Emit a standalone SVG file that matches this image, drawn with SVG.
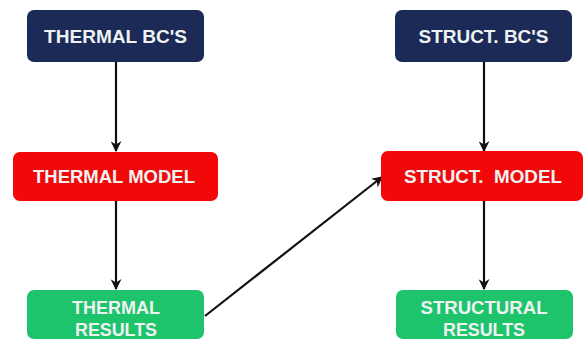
<svg xmlns="http://www.w3.org/2000/svg" width="584" height="340" viewBox="0 0 584 340">
<defs>
<marker id="ah" viewBox="0 0 10 10" refX="9" refY="5" markerWidth="5" markerHeight="5" orient="auto" markerUnits="strokeWidth">
<path d="M0,0 L10,5 L0,10 L3,5 Z" fill="#111"/>
</marker>
<style>
.bc{fill:#1b2a57}
.md{fill:#f20808}
.rs{fill:#1ec46b}
.t{font-family:"Liberation Sans",Arial,sans-serif;font-weight:bold;font-size:18px;fill:#eef2f2;text-anchor:middle}
.c{stroke:#111;stroke-width:2.2;fill:none;marker-end:url(#ah)}
</style>
</defs>
<rect width="584" height="340" fill="#ffffff"/>
<g id="connectors">
<line class="c" x1="116" y1="62" x2="116" y2="151"/>
<line class="c" x1="116" y1="201" x2="116" y2="289"/>
<line class="c" x1="484" y1="62" x2="484" y2="151"/>
<line class="c" x1="484" y1="201" x2="484" y2="289"/>
<line class="c" x1="205" y1="316" x2="382" y2="177"/>
</g>
<g id="thermal-bcs">
<rect class="bc" x="27" y="10" width="177" height="52" rx="7"/>
<text class="t" x="115.5" y="43" textLength="143" lengthAdjust="spacingAndGlyphs">THERMAL BC'S</text>
</g>
<g id="struct-bcs">
<rect class="bc" x="395" y="10" width="177" height="52" rx="7"/>
<text class="t" x="483.5" y="43" textLength="130" lengthAdjust="spacingAndGlyphs">STRUCT. BC'S</text>
</g>
<g id="thermal-model">
<rect class="md" x="13" y="152" width="205" height="49" rx="7"/>
<text class="t" x="114" y="183" textLength="162" lengthAdjust="spacingAndGlyphs">THERMAL MODEL</text>
</g>
<g id="struct-model">
<rect class="md" x="381" y="151" width="202" height="50" rx="7"/>
<text class="t" x="483" y="183" textLength="158" lengthAdjust="spacingAndGlyphs" xml:space="preserve">STRUCT.  MODEL</text>
</g>
<g id="thermal-results">
<rect class="rs" x="27" y="290" width="177" height="49" rx="7"/>
<text class="t" x="116" y="314" textLength="88" lengthAdjust="spacingAndGlyphs">THERMAL</text>
<text class="t" x="116" y="336" textLength="82" lengthAdjust="spacingAndGlyphs">RESULTS</text>
</g>
<g id="structural-results">
<rect class="rs" x="396" y="290" width="177" height="49" rx="7"/>
<text class="t" x="484" y="314" textLength="127" lengthAdjust="spacingAndGlyphs">STRUCTURAL</text>
<text class="t" x="484" y="336" textLength="82" lengthAdjust="spacingAndGlyphs">RESULTS</text>
</g>
</svg>
